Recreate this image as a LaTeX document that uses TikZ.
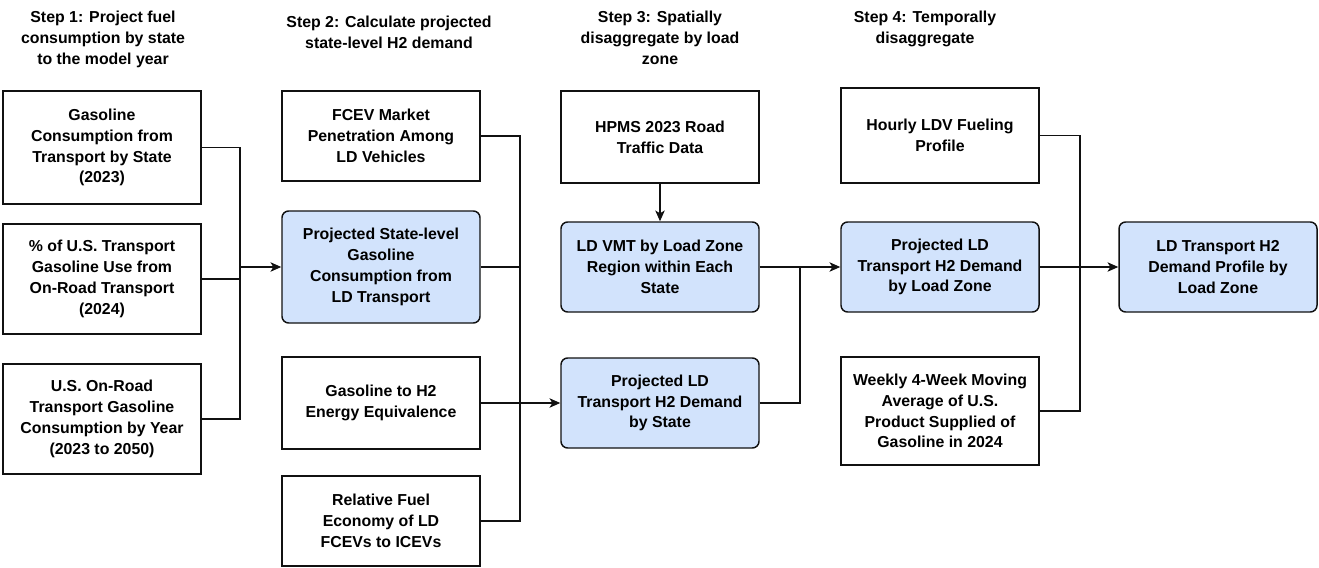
\documentclass[tikz,border=0pt]{standalone}
\usepackage{fontspec}
\setmainfont{Liberation Sans}
\usepackage{tikz}
\usetikzlibrary{arrows.meta,positioning,calc}
\definecolor{BoxBlue}{HTML}{D2E3FC}
\definecolor{EdgeBlack}{HTML}{111111}

\begin{document}
\begin{tikzpicture}[
    x=0.75pt, y=-0.75pt,
    font=\fontsize{11.9}{15.6}\selectfont\bfseries,
    src/.style={rectangle, draw=EdgeBlack, line width=1.1pt, fill=white, minimum width=148.5pt, align=center, inner sep=2pt},
    calc/.style={src, rounded corners=5pt, fill=BoxBlue},
    head/.style={align=center, font=\fontsize{11.9}{15.8}\selectfont\bfseries},
    link/.style={line width=1.1pt, draw=EdgeBlack},
    arrow/.style={link, -{Stealth[length=8pt,width=7pt,inset=2pt]}}
]
\useasboundingbox (0,0) rectangle (1319,567);

% step headings
\node[head] (h1) at (103,39) {Step 1: Project fuel\\consumption by state\\to the model year};
\node[head] (h2) at (389,32) {Step 2: Calculate projected\\state-level H2 demand};
\node[head] (h3) at (660,38) {Step 3: Spatially\\disaggregate by load\\zone};
\node[head] (h4) at (925,29) {Step 4: Temporally\\disaggregate};

% step 1 inputs
\node[src, minimum height=84.75pt] (gasState) at (102,147.5) {Gasoline\\Consumption from\\Transport by State\\(2023)};
\node[src, minimum height=82.5pt] (onRoadShare) at (102,279) {\% of U.S. Transport\\Gasoline Use from\\On-Road Transport\\(2024)};
\node[src, minimum height=82.5pt] (onRoadYear) at (102,419) {U.S. On-Road\\Transport Gasoline\\Consumption by Year\\(2023 to 2050)};

% step 2
\node[src, minimum height=67.5pt] (fcevShare) at (381,136) {FCEV Market\\Penetration Among\\LD Vehicles};
\node[calc, minimum height=84pt] (projGas) at (381,267) {Projected State-level\\Gasoline\\Consumption from\\LD Transport};
\node[src, minimum height=69pt] (h2Equiv) at (381,403) {Gasoline to H2\\Energy Equivalence};
\node[src, minimum height=67.5pt] (fuelEcon) at (381,521) {Relative Fuel\\Economy of LD\\FCEVs to ICEVs};

% step 3
\node[src, minimum height=69pt] (hpms) at (660,137) {HPMS 2023 Road\\Traffic Data};
\node[calc, minimum height=67.5pt] (vmtZone) at (660,267) {LD VMT by Load Zone\\Region within Each\\State};
\node[calc, minimum height=67.5pt] (h2State) at (660,403) {Projected LD\\Transport H2 Demand\\by State};

% step 4
\node[src, minimum height=71.25pt] (hourly) at (940,135.5) {Hourly LDV Fueling\\Profile};
\node[calc, minimum height=67.5pt] (h2Zone) at (940,267) {Projected LD\\Transport H2 Demand\\by Load Zone};
\node[src, minimum height=81pt] (weekly) at (940,411) {Weekly 4-Week Moving\\Average of U.S.\\Product Supplied of\\Gasoline in 2024};

% result
\node[calc, minimum height=67.5pt] (profile) at (1218,267) {LD Transport H2\\Demand Profile by\\Load Zone};

% junction points
\coordinate (j1) at (240,267);
\coordinate (j2) at (520,403);
\coordinate (j3) at (800,267);
\coordinate (j4) at (1080,267);

\draw[link] (gasState.east) -| (j1) |- (onRoadYear.east);
\draw[link] (onRoadShare.east) -- (onRoadShare.east -| j1);
\draw[arrow] (j1) -- (projGas.west);

\draw[link] (fcevShare.east) -| (j2) |- (fuelEcon.east);
\draw[link] (projGas.east) -- (projGas.east -| j2);
\draw[link] (h2Equiv.east) -- (j2);
\draw[arrow] (j2) -- (h2State.west);

\draw[arrow] (hpms) -- (vmtZone);
\draw[link] (h2State.east) -| (j3);
\draw[arrow] (vmtZone.east) -- (h2Zone.west);

\draw[link] (hourly.east) -| (j4) |- (weekly.east);
\draw[link] (h2Zone.east) -- (j4);
\draw[arrow] (j4) -- (profile.west);
\end{tikzpicture}
\end{document}
